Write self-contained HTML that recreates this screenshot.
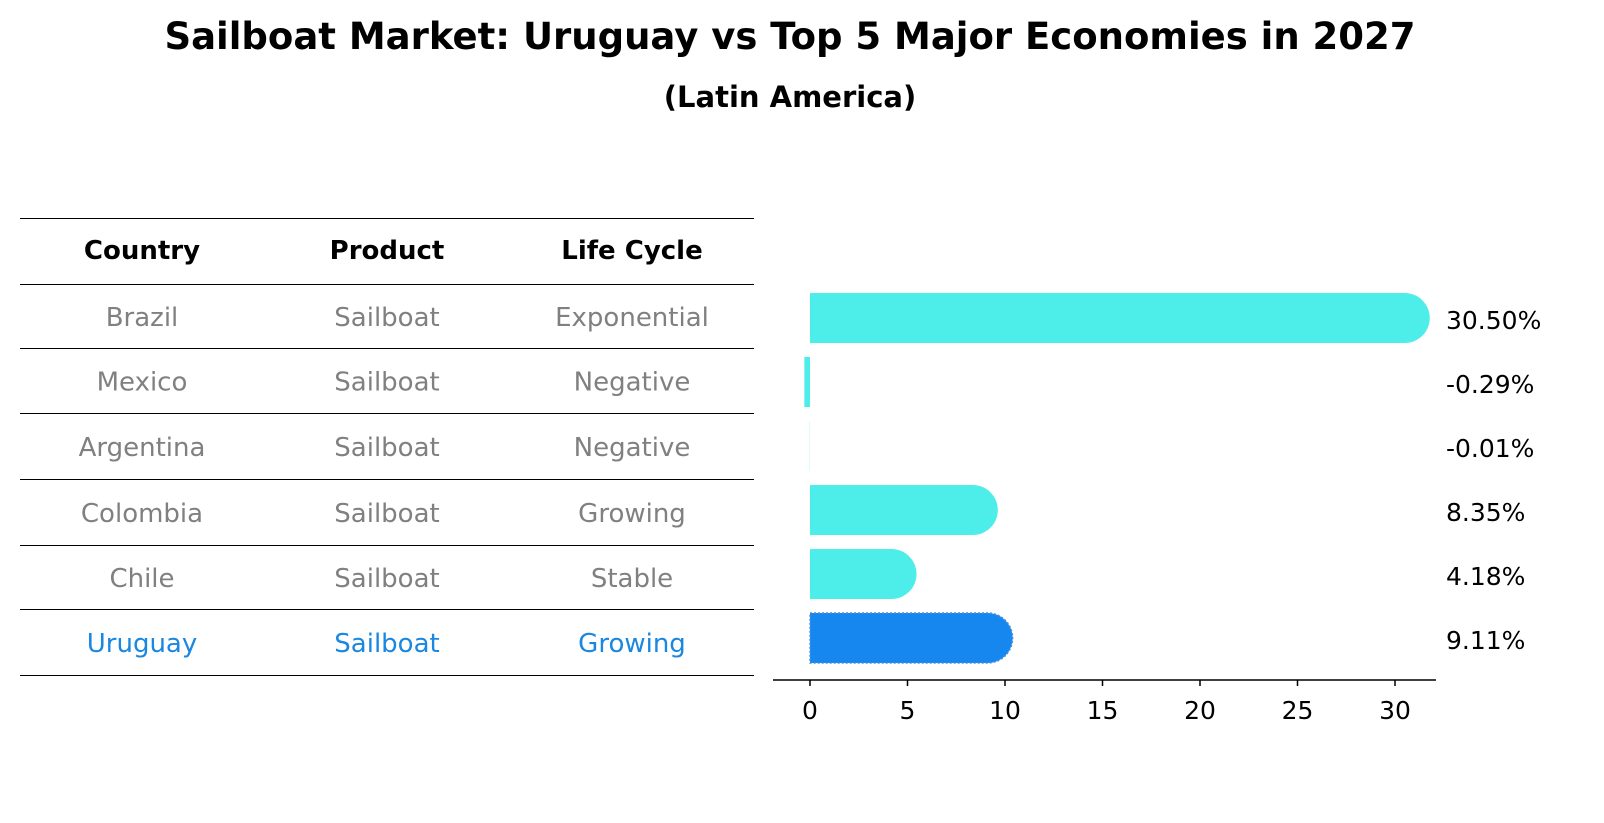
<!DOCTYPE html>
<html><head><meta charset="utf-8"><style>
body{margin:0;background:#fff;font-family:"Liberation Sans","DejaVu Sans",sans-serif;}
svg{display:block}
</style></head><body>
<svg id="c" width="1604" height="823" xmlns="http://www.w3.org/2000/svg">
<text x="790" y="49" text-anchor="middle" font-size="37" font-weight="bold" font-family="DejaVu Sans, sans-serif">Sailboat Market: Uruguay vs Top 5 Major Economies in 2027</text>
<text x="790" y="107" text-anchor="middle" font-size="29" font-weight="bold" font-family="DejaVu Sans, sans-serif">(Latin America)</text>
<g id="table"></g>
<g id="bars"></g>
</svg>
<script>
const countries=["Brazil","Mexico","Argentina","Colombia","Chile","Uruguay"];
const products=["Sailboat","Sailboat","Sailboat","Sailboat","Sailboat","Sailboat"];
const lifecycle=["Exponential","Negative","Negative","Growing","Stable","Growing"];
const values=[30.50,-0.29,-0.01,8.35,4.18,9.11];
const ticks=[0,5,10,15,20,25,30];
const NS="http://www.w3.org/2000/svg";
function mk(t,a,p){const e=document.createElementNS(NS,t);for(const k in a)e.setAttribute(k,a[k]);p.appendChild(e);return e;}
const tb=document.getElementById('table');
const lineY=[218,284,348,413,479,545,609,675];
lineY.forEach((y,i)=>{const l=mk('line',{x1:20,x2:754,y1:y+0.5,y2:y+0.5,stroke:'#000','stroke-width':1},tb);

});
const colX=[142,387,632];
["Country","Product","Life Cycle"].forEach((h,i)=>{const t=mk('text',{x:colX[i],y:259,'text-anchor':'middle','font-size':26,'font-weight':'bold','font-family':'DejaVu Sans, sans-serif'},tb);t.textContent=h;

});
countries.forEach((c,r)=>{const y=(lineY[r+1]+lineY[r+2])/2+10;const col=c==="Uruguay"?'#1a87e0':'#808080';
[c,products[r],lifecycle[r]].forEach((v,i)=>{const t=mk('text',{x:colX[i],y:y,'text-anchor':'middle','font-size':26,fill:col,'font-family':'DejaVu Sans, sans-serif'},tb);t.textContent=v;

});});
const g=document.getElementById('bars');
const x0=810,ppu=19.5;const X=v=>x0+v*ppu;
const rowY=r=>318+r*64;const bh=50;
values.forEach((v,r)=>{const yc=rowY(r);const uru=countries[r]==="Uruguay";const fill=uru?'#1787f0':'#4deeea';
let el;
if(v>0.5){const xe=X(v),xs=X(0),rad=bh/2;
el=mk('path',{d:`M${xs},${yc-rad} L${xe},${yc-rad} A${rad},${rad} 0 0 1 ${xe},${yc+rad} L${xs},${yc+rad} Z`,fill:fill},g);
if(uru){el.setAttribute('stroke','#4a90d9');el.setAttribute('stroke-width','1.5');el.setAttribute('stroke-dasharray','2,2');}}
else{const a=Math.min(X(v),X(0)),w=Math.abs(X(v)-X(0));el=mk('rect',{x:a,y:yc-bh/2,width:w,height:bh,fill:fill},g);}


const t=mk('text',{x:1446,y:yc+11,'font-size':25,'font-family':'DejaVu Sans, sans-serif'},g);t.textContent=v.toFixed(2)+'%';

});
const ax=mk('line',{x1:773,x2:1436,y1:680,y2:680,stroke:'#000','stroke-width':1.5},g);


ticks.forEach(tv=>{const tk=mk('line',{x1:X(tv),x2:X(tv),y1:680,y2:686,stroke:'#000','stroke-width':1.5},g);


const t=mk('text',{x:X(tv),y:719,'text-anchor':'middle','font-size':25,'font-family':'DejaVu Sans, sans-serif'},g);t.textContent=tv;

});
</script>
</body></html>
